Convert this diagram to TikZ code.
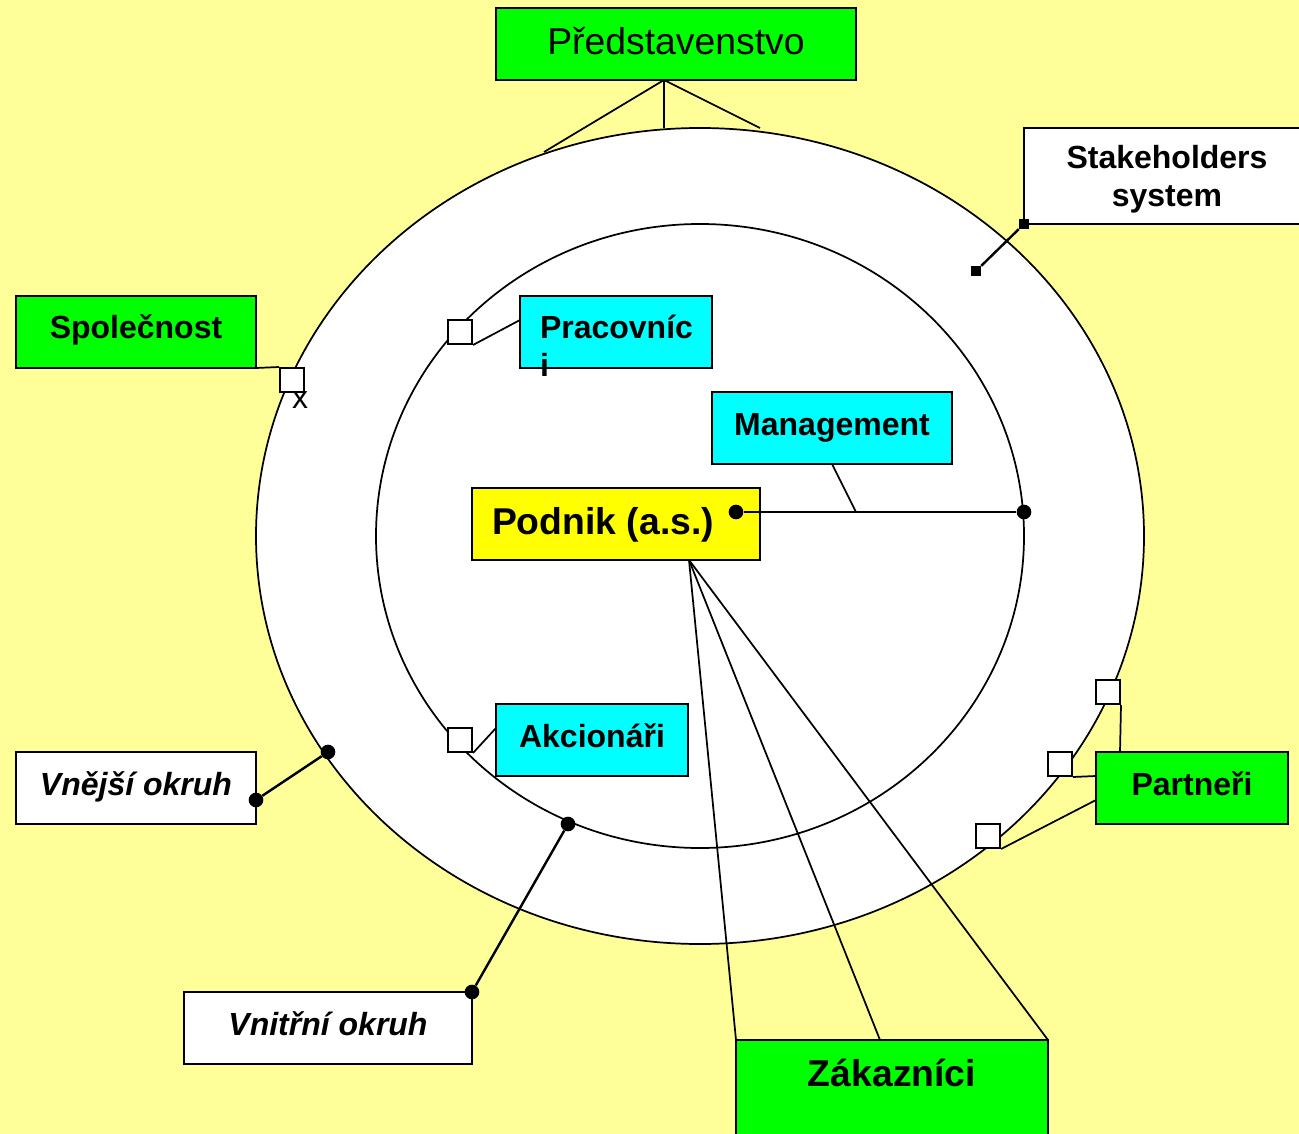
\documentclass[tikz,border=0pt]{standalone}
\usepackage{fontspec}
\setmainfont{Liberation Sans}
\definecolor{bgyellow}{HTML}{FFFF99}
\definecolor{boxgreen}{HTML}{00FF00}
\definecolor{boxcyan}{HTML}{00FFFF}
\definecolor{boxyellow}{HTML}{FFFF00}

\begin{document}
\begin{tikzpicture}[x=0.75pt, y=-0.75pt,
    box/.style={rectangle, draw, line width=1.6pt, inner sep=0pt, outer sep=0pt},
    lab/.style={font=\fontsize{24}{28}\selectfont\bfseries, text height=17pt, text depth=6.5pt},
    ital/.style={lab, font=\fontsize{24}{28}\selectfont\bfseries\itshape},
    big/.style={font=\fontsize{28}{33}\selectfont, text height=20pt, text depth=4pt},
    sq/.style={rectangle, draw, fill=white, line width=1.5pt, minimum size=18pt, inner sep=0pt},
    fsq/.style={rectangle, fill=black, minimum size=7.5pt, inner sep=0pt},
    dot/.style={circle, fill=black, minimum size=11pt, inner sep=0pt},
    ln/.style={line width=1.3pt},
    lk/.style={line width=1.8pt},
  ]
  \useasboundingbox (0,0) rectangle (1299,1134);
  \fill[bgyellow] (0,0) rectangle (1299,1134);
  % rings
  \draw[line width=1.3pt, fill=white] (700,536) ellipse [x radius=333pt, y radius=306pt];
  \draw[line width=1.3pt, fill=white] (700,536) ellipse [x radius=243pt, y radius=234pt];

  \coordinate (predB) at (664,80);
  \coordinate (rimL) at (544,152);
  \coordinate (rimM) at (664,128);
  \coordinate (rimR) at (760,128);
  \coordinate (podB) at (689,560);
  \coordinate (zakM) at (880,1040);
  \coordinate (mgmtE) at (856,512);
  \coordinate (pracW) at (520,320);
  \coordinate (akcW) at (496,728);
  \coordinate (partT) at (1120,752);
  \coordinate (partM) at (1096,776);
  \coordinate (partL) at (1096,800);

  \node[box, fill=boxgreen, minimum width=270pt, minimum height=54pt, big] (pred) at (676,44) {Představenstvo};
  \node[box, fill=white, minimum width=214.5pt, minimum height=72pt, align=center,
        font=\fontsize{24}{28}\selectfont\bfseries] (stake) at (1167,176) {\rule{0pt}{22pt}Stakeholders\\system};
  \node[box, fill=boxgreen, minimum width=180pt, minimum height=54pt, lab] (spol) at (136,332) {Společnost};
  \node[box, fill=boxcyan, minimum width=144pt, minimum height=54pt, lab] (prac) at (616,332) {\parbox[t]{114pt}{Pracovníc\\i}};
  \node[box, fill=boxcyan, minimum width=180pt, minimum height=54pt, lab] (mgmt) at (832,428) {Management};
  \node[box, fill=boxyellow, minimum width=216pt, minimum height=54pt, big,
        font=\fontsize{28}{33}\selectfont\bfseries] (podnik) at (616,524) {\parbox[t]{186pt}{Podnik (a.s.)}};
  \node[box, fill=boxcyan, minimum width=144pt, minimum height=54pt, lab] (akc) at (592,740) {Akcionáři};
  \node[box, fill=white, minimum width=180pt, minimum height=54pt, ital] (vnej) at (136,788) {Vnější okruh};
  \node[box, fill=white, minimum width=216pt, minimum height=54pt, ital] (vnit) at (328,1028) {Vnitřní okruh};
  \node[box, fill=boxgreen, minimum width=144pt, minimum height=54pt, lab] (partn) at (1192,788) {Partneři};
  \node[box, fill=boxgreen, minimum width=234pt, minimum height=90pt, font=\fontsize{28}{33}\selectfont\bfseries,
        text height=20pt, text depth=40pt] (zak) at (892,1100) {Zákazníci};

  % links to the rings
  \draw[ln] (predB) -- (rimL);
  \draw[ln] (predB) -- (rimM);
  \draw[ln] (predB) -- (rimR);
  \draw[ln] (podB) -- (zak.north west);
  \draw[ln] (podB) -- (zakM);
  \draw[ln] (podB) -- (zak.north east);
  \draw[ln] (mgmt.south) -- (mgmtE);

  \node[sq] (sqS) at (292,380) {};
  \node[sq] (sqP) at (460,332) {};
  \node[sq] (sqA) at (460,740) {};
  \node[sq] (sqR1) at (1108,692) {};
  \node[sq] (sqR2) at (1060,764) {};
  \node[sq] (sqR3) at (988,836) {};
  \node[font=\fontsize{24}{28}\selectfont, anchor=base, inner sep=0pt] (xmark) at (300,408) {x};

  \draw[ln] (spol.south east) -- (sqS.north west);
  \draw[ln] (sqP.south east) -- (pracW);
  \draw[ln] (sqA.south east) -- (akcW);
  \draw[ln] (sqR1.south east) -- (partT);
  \draw[ln] (sqR2.south east) -- (partM);
  \draw[ln] (sqR3.south east) -- (partL);

  \node[fsq] (fs1) at (1024,224) {};
  \node[fsq] (fs2) at (976,271) {};
  \draw[lk] (fs1) -- (fs2);

  \node[dot] (dPod) at (736,512) {};
  \node[dot] (dRing) at (1024,512) {};
  \node[dot] (dOut) at (328,752) {};
  \node[dot] (dVnej) at (256,800) {};
  \node[dot] (dIn) at (568,824) {};
  \node[dot] (dVnit) at (472,992) {};
  \draw[lk] (dPod) -- (dRing);
  \draw[lk] (dVnej) -- (dOut);
  \draw[lk] (dVnit) -- (dIn);
\end{tikzpicture}
\end{document}
